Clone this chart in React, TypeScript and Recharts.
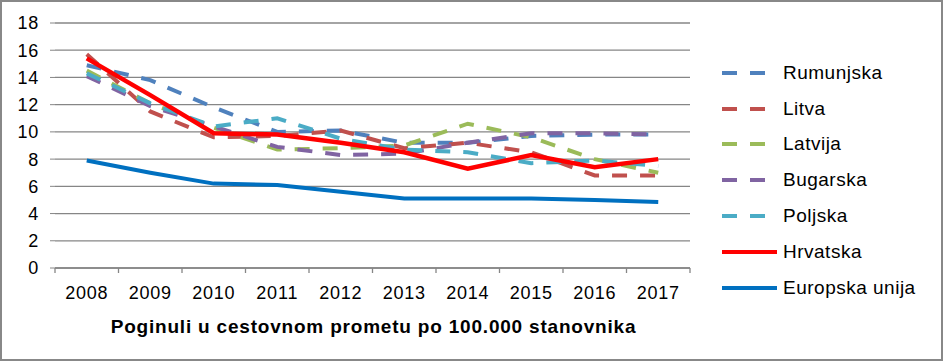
import { LineChart, Line, XAxis, YAxis, CartesianGrid, Legend } from 'recharts';

const years = ['2008', '2009', '2010', '2011', '2012', '2013', '2014', '2015', '2016', '2017'];
const rumunjska = [14.9, 13.8, 11.8, 10.0, 10.1, 9.2, 9.2, 9.7, 9.8, 9.8];
const litva = [15.7, 11.5, 9.6, 9.7, 10.1, 8.8, 9.2, 8.5, 6.8, 6.8];
const latvija = [14.5, 12.1, 10.3, 8.7, 8.8, 9.0, 10.6, 9.6, 8.0, 7.0];
const bugarska = [14.1, 11.9, 10.4, 8.9, 8.3, 8.4, 9.2, 9.9, 9.9, 9.8];
const poljska = [14.3, 12.1, 10.4, 11.0, 9.5, 8.7, 8.5, 7.7, 7.9, 7.5];
const hrvatska = [15.4, 12.7, 9.9, 9.8, 9.2, 8.5, 7.3, 8.3, 7.4, 8.0];
const europskaUnija = [7.9, 7.0, 6.2, 6.1, 5.6, 5.1, 5.1, 5.1, 5.0, 4.85];
const yTicks = [0, 2, 4, 6, 8, 10, 12, 14, 16, 18];

const series = [
  { key: 'Rumunjska', values: rumunjska, color: '#4F81BD', dashed: true },
  { key: 'Litva', values: litva, color: '#C0504D', dashed: true },
  { key: 'Latvija', values: latvija, color: '#9BBB59', dashed: true },
  { key: 'Bugarska', values: bugarska, color: '#8064A2', dashed: true },
  { key: 'Poljska', values: poljska, color: '#4BACC6', dashed: true },
  { key: 'Hrvatska', values: hrvatska, color: '#FF0000', dashed: false },
  { key: 'Europska unija', values: europskaUnija, color: '#0070C0', dashed: false },
];

const data = years.map((year, i) => {
  const row: Record<string, string | number> = { year };
  series.forEach((s) => {
    row[s.key] = s.values[i];
  });
  return row;
});

const FONT = '"Liberation Sans", Arial, sans-serif';
const GRID = '#868686';
const DASH = '15 13';

// year label plus tick marks on the category boundaries (Excel style)
const YearTick = (props: any) => {
  const { x, y, payload, index, visibleTicksCount } = props;
  const half = payload.offset || 0;
  const last = index === visibleTicksCount - 1;
  return (
    <g>
      <line x1={x - half} y1={y} x2={x - half} y2={y + 5} stroke={GRID} strokeWidth={1.3} />
      {last && <line x1={x + half} y1={y} x2={x + half} y2={y + 5} stroke={GRID} strokeWidth={1.3} />}
      <text
        x={x}
        y={y + 18}
        dy="0.71em"
        textAnchor="middle"
        fill="#000"
        fontSize={18}
        fontFamily={FONT}
        letterSpacing={0.8}
      >
        {payload.value}
      </text>
    </g>
  );
};

const LegendContent = () => (
  <div style={{ fontFamily: FONT }}>
    {series.map((s) => (
      <div key={s.key} style={{ display: 'flex', alignItems: 'center', height: 35.8 }}>
        <svg width={61} height={10} style={{ display: 'block' }}>
          <line
            x1={0}
            y1={5}
            x2={55}
            y2={5}
            stroke={s.color}
            strokeWidth={4}
            strokeDasharray={s.dashed ? DASH : undefined}
          />
        </svg>
        <span style={{ fontSize: 19, color: '#000', letterSpacing: 0.5 }}>{s.key}</span>
      </div>
    ))}
  </div>
);

export default function App() {
  return (
    <div
      style={{
        position: 'absolute',
        left: 0,
        top: 0,
        width: 943,
        height: 361,
        boxSizing: 'border-box',
        border: '2px solid #888888',
        background: '#fff',
        fontFamily: FONT,
      }}
    >
      <LineChart
        width={939}
        height={357}
        data={data}
        margin={{ top: 21, right: 41, bottom: 51, left: 0 }}
      >
        <CartesianGrid horizontal vertical={false} stroke={GRID} strokeWidth={1.3} />
        <XAxis
          dataKey="year"
          scale="band"
          stroke={GRID}
          strokeWidth={1.3}
          tickLine={false}
          tickSize={0}
          tickMargin={0}
          height={40}
          interval={0}
          tick={<YearTick />}
        />
        <YAxis
          domain={[0, 18]}
          ticks={yTicks}
          width={53}
          axisLine={false}
          tickSize={5}
          tickMargin={11}
          stroke={GRID}
          interval={0}
          tick={{ fill: '#000', fontSize: 18, fontFamily: FONT, letterSpacing: 0.8 }}
        />
        <Legend
          layout="vertical"
          align="right"
          verticalAlign="top"
          content={<LegendContent />}
          wrapperStyle={{ position: 'absolute', left: 720, top: 53, width: 210 }}
        />
        {series.map((s) => (
          <Line
            key={s.key}
            type="linear"
            dataKey={s.key}
            stroke={s.color}
            strokeWidth={s.key === 'Hrvatska' ? 4.5 : 4}
            strokeDasharray={s.dashed ? DASH : undefined}
            dot={false}
            activeDot={false}
            isAnimationActive={false}
          />
        ))}
      </LineChart>
      <div
        style={{
          position: 'absolute',
          left: 0,
          width: 743,
          top: 314,
          textAlign: 'center',
          fontSize: 19,
          fontWeight: 'bold',
          letterSpacing: 0.8,
          color: '#000',
        }}
      >
        Poginuli u cestovnom prometu po 100.000 stanovnika
      </div>
    </div>
  );
}
